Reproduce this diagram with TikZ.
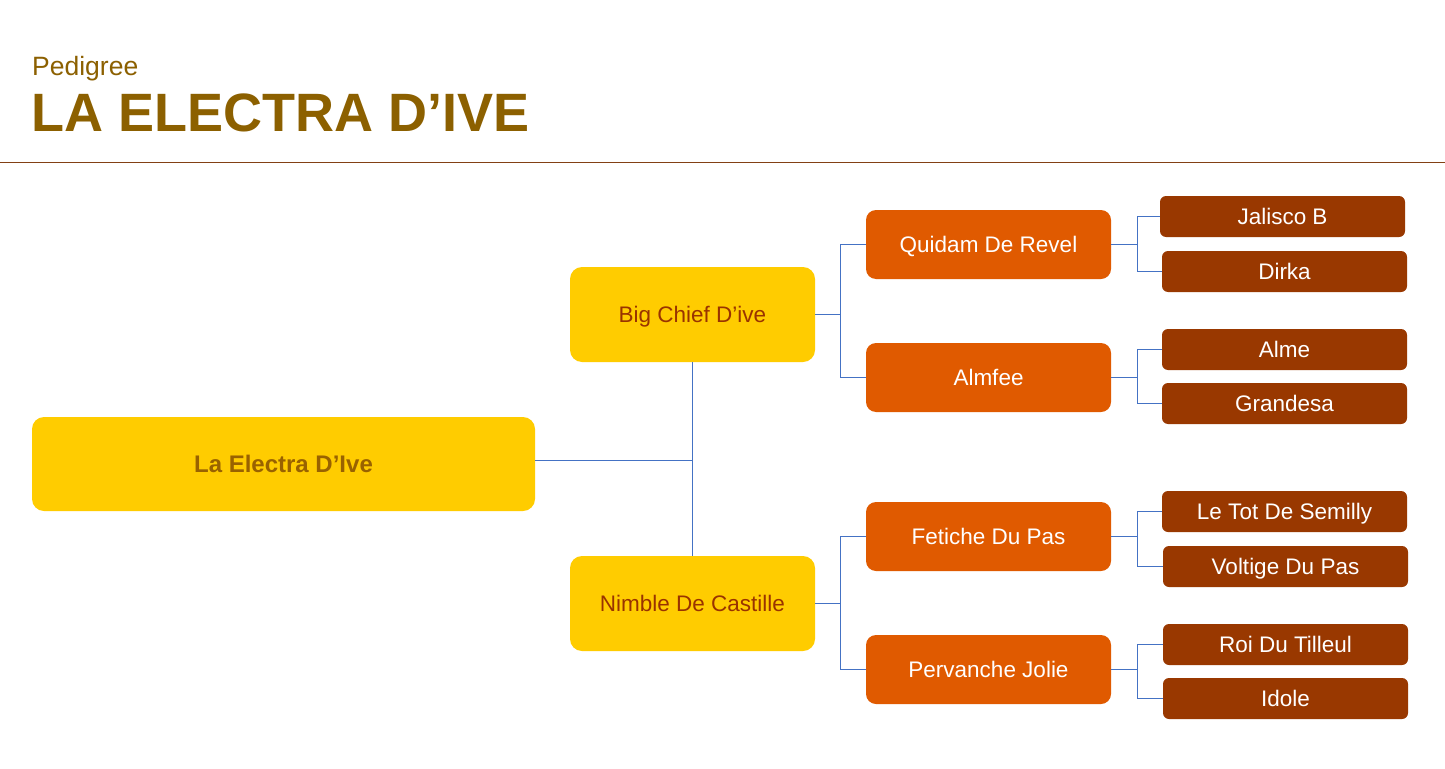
\documentclass[tikz,border=0pt]{standalone}
\usepackage{fontspec}
\setmainfont{Liberation Sans}
\definecolor{gold}{RGB}{140,96,0}
\definecolor{rule}{RGB}{130,64,20}
\definecolor{yel}{RGB}{255,204,0}
\definecolor{yeltext}{RGB}{153,98,0}
\definecolor{chtext}{RGB}{153,51,0}
\definecolor{orng}{RGB}{224,90,0}
\definecolor{dbrown}{RGB}{153,56,0}
\definecolor{conn}{RGB}{68,114,196}
\tikzset{
  boxbase/.style={draw=none,inner sep=0pt,text height=16.1pt,text depth=0pt},
  rootbox/.style={boxbase,fill=yel,rounded corners=12pt,minimum width=503pt,minimum height=94pt,text=yeltext,text height=17.2pt,font=\fontsize{24}{28}\selectfont\bfseries},
  parbox/.style={boxbase,fill=yel,rounded corners=12pt,minimum width=245pt,minimum height=95pt,text=chtext,font=\fontsize{22.5}{26}\selectfont},
  gpbox/.style={boxbase,fill=orng,rounded corners=10pt,minimum width=245pt,minimum height=69pt,text=white,font=\fontsize{22.5}{26}\selectfont},
  ggpbox/.style={boxbase,fill=dbrown,rounded corners=6pt,minimum width=245pt,minimum height=41pt,text=white,font=\fontsize{22.5}{26}\selectfont},
  link/.style={draw=conn,line width=1pt}
}
\begin{document}
\begin{tikzpicture}[x=1pt,y=-1pt]
\useasboundingbox[fill=white] (0,0) rectangle (1445,768);
% header
\node[anchor=base west,inner sep=0pt,text=gold,font=\fontsize{26.5}{30}\selectfont] (pre) at (32,75) {Pedigree};
\node[anchor=base west,inner sep=0pt,text=gold,font=\fontsize{54}{60}\selectfont\bfseries] (title) at (31,131) {LA ELECTRA D’IVE};
\coordinate (rl) at (0,162);
\coordinate (rr) at (1445,162);
\draw[rule,line width=1pt] (rl) -- (rr);
% nodes
\node[rootbox] (root) at (283.5,464) {La Electra D’Ive};
\node[parbox] (sire) at (692.5,314.5) {Big Chief D’ive};
\node[parbox] (dam) at (692.5,603.5) {Nimble De Castille};
\node[gpbox] (ss) at (988.5,244.5) {Quidam De Revel};
\node[gpbox] (sd) at (988.5,377.5) {Almfee};
\node[gpbox] (ds) at (988.5,536.5) {Fetiche Du Pas};
\node[gpbox] (dd) at (988.5,669.5) {Pervanche Jolie};
\node[ggpbox] (sss) at (1282.5,216.5) {Jalisco B};
\node[ggpbox] (ssd) at (1284.5,271.5) {Dirka};
\node[ggpbox] (sds) at (1284.5,349.5) {Alme};
\node[ggpbox] (sdd) at (1284.5,403.5) {Grandesa};
\node[ggpbox] (dss) at (1284.5,511.5) {Le Tot De Semilly};
\node[ggpbox] (dsd) at (1285.5,566.5) {Voltige Du Pas};
\node[ggpbox] (dds) at (1285.5,644.5) {Roi Du Tilleul};
\node[ggpbox] (ddd) at (1285.5,698.5) {Idole};
% connectors
\draw[link] (root.east |- 0,460) -- (692.5,460);
\draw[link] (sire.south) -- (dam.north);
\draw[link] (sire.east) -- ++(25,0) |- (ss.west);
\draw[link] (sire.east) ++(25,0) |- (sd.west);
\draw[link] (dam.east) -- ++(25,0) |- (ds.west);
\draw[link] (dam.east) ++(25,0) |- (dd.west);
\draw[link] (ss.east) -- ++(26,0) |- (sss.west);
\draw[link] (ss.east) ++(26,0) |- (ssd.west);
\draw[link] (sd.east) -- ++(26,0) |- (sds.west);
\draw[link] (sd.east) ++(26,0) |- (sdd.west);
\draw[link] (ds.east) -- ++(26,0) |- (dss.west);
\draw[link] (ds.east) ++(26,0) |- (dsd.west);
\draw[link] (dd.east) -- ++(26,0) |- (dds.west);
\draw[link] (dd.east) ++(26,0) |- (ddd.west);
\end{tikzpicture}
\end{document}
